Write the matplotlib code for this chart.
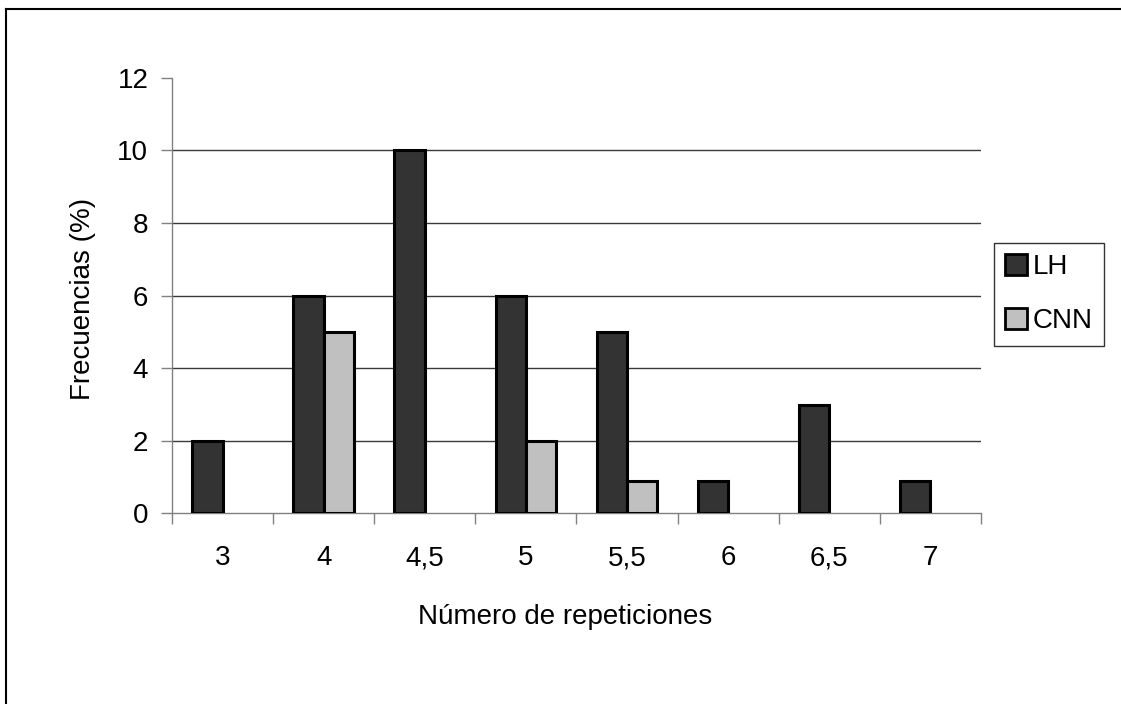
import matplotlib.pyplot as plt
from matplotlib.lines import Line2D
from matplotlib.patches import Patch
import numpy as np

plt.rcParams['font.family'] = ['Liberation Sans', 'DejaVu Sans']

# frequencies by number of repetitions
categories = ['3', '4', '4,5', '5', '5,5', '6', '6,5', '7']
lh = [2, 6, 10, 6, 5, 0.9, 3, 0.9]
cnn = [0, 5, 0, 2, 0.9, 0, 0, 0]
yticks = [0, 2, 4, 6, 8, 10, 12]

lh_color = '#333333'
cnn_color = '#c0c0c0'
fs = 20

fig = plt.figure(figsize=(11.21, 7.04), dpi=100)
ax = fig.add_axes([0.1534, 0.2706, 0.7217, 0.619])

x = np.arange(len(categories))
w = 0.3
ax.bar(x - w / 2, lh, w, color=lh_color, edgecolor='black', linewidth=2.2, zorder=3)
for xi, v in zip(x, cnn):
    if v > 0:
        ax.bar(xi + w / 2, v, w, color=cnn_color, edgecolor='black', linewidth=2.2, zorder=3)

ax.set_xlim(-0.5, len(categories) - 0.5)
ax.set_ylim(0, 12)

# horizontal grid, none at the top
for yv in yticks[1:-1]:
    ax.axhline(yv, color='#3a3a3a', lw=1, zorder=1)

for s in ['top', 'right']:
    ax.spines[s].set_visible(False)
for s in ['left', 'bottom']:
    ax.spines[s].set_color('#808080')
    ax.spines[s].set_linewidth(1)

ax.set_yticks(yticks)
ax.tick_params(axis='y', direction='out', length=8, width=1, color='#808080',
               labelsize=fs, pad=9)

# ticks between categories, labels centred on each group
ax.set_xticks(np.arange(-0.5, len(categories)), minor=False)
ax.set_xticklabels([])
ax.set_xticks(x, minor=True)
ax.set_xticklabels(categories, minor=True)
ax.tick_params(axis='x', which='major', direction='out', length=8, width=1, color='#808080')
ax.tick_params(axis='x', which='minor', length=0, labelsize=fs, pad=23)

fig.text(0.074, 0.575, 'Frecuencias (%)', rotation=90, ha='center', va='center', fontsize=fs)
fig.text(0.504, 0.124, 'Número de repeticiones', ha='center', va='center', fontsize=fs)

handles = [Patch(facecolor=lh_color, edgecolor='black', linewidth=2),
           Patch(facecolor=cnn_color, edgecolor='black', linewidth=2)]
leg = fig.legend(handles, ['LH', 'CNN'], loc='upper left',
                 bbox_to_anchor=(994 / 1121, 1 - 243 / 704),
                 fontsize=fs, frameon=True, fancybox=False,
                 handlelength=0.8, handleheight=0.8, handletextpad=0.2,
                 labelspacing=1.0, borderpad=0.4, borderaxespad=0)
leg.get_frame().set_edgecolor('black')
leg.get_frame().set_linewidth(1)

# outer frame, only top and left edges fall inside the image
fig.add_artist(Line2D([6 / 1121, 1], [1 - 9 / 704, 1 - 9 / 704], color='black', lw=1.5,
                      transform=fig.transFigure))
fig.add_artist(Line2D([6 / 1121, 6 / 1121], [0, 1 - 9 / 704], color='black', lw=1.5,
                      transform=fig.transFigure))

fig.savefig('out.png', dpi=100)
